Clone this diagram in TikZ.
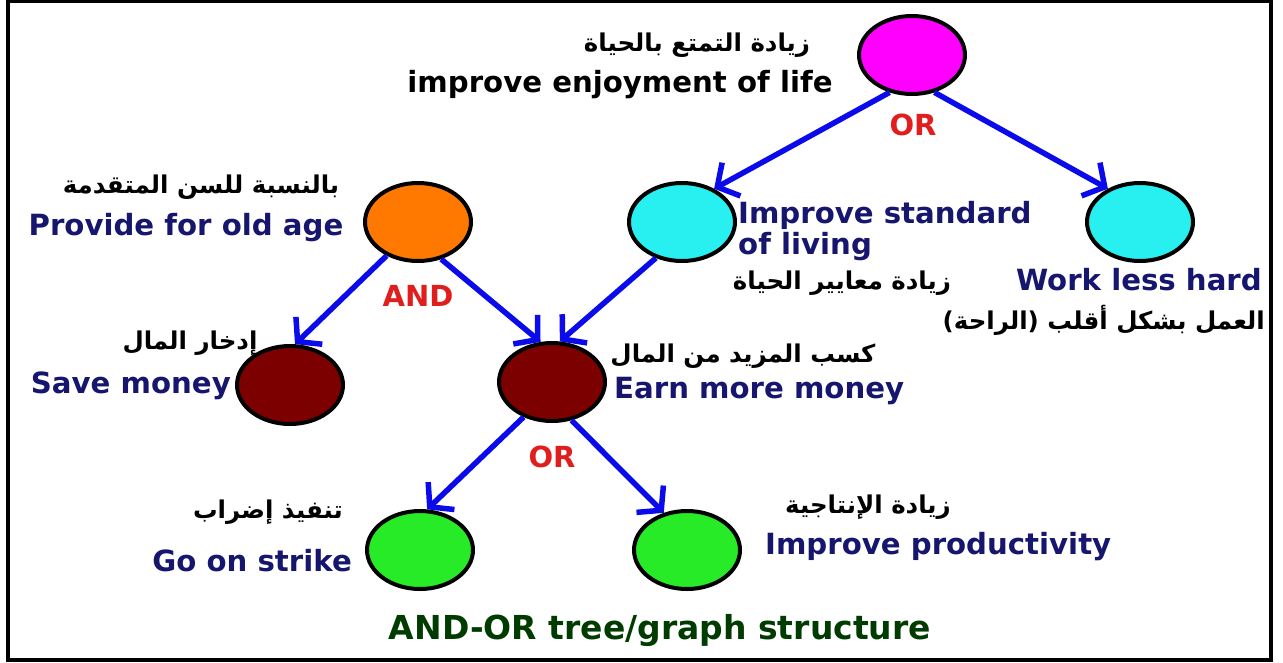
\documentclass[tikz,border=0pt]{standalone}
\usepackage{fontspec}
\setmainfont{DejaVu Sans}
\newfontfamily\arfont[Script=Arabic]{DejaVu Sans}
\TeXXeTstate=1
\usetikzlibrary{shapes.geometric,arrows.meta}
\definecolor{textblue}{RGB}{22,22,110}
\definecolor{arrowblue}{RGB}{10,10,235}
\definecolor{labred}{RGB}{225,30,30}
\definecolor{titlegreen}{RGB}{0,60,0}
\definecolor{cmag}{RGB}{255,0,255}
\definecolor{ccyan}{RGB}{40,240,240}
\definecolor{corange}{RGB}{255,120,0}
\definecolor{cdred}{RGB}{125,0,0}
\definecolor{cgreen}{RGB}{40,235,40}
\begin{document}
\begin{tikzpicture}[x=1pt,y=-1pt,
  st/.style={ellipse,draw=black,line width=4pt,minimum width=106pt,minimum height=78pt,inner sep=0pt},
  arr/.style={draw=arrowblue,line width=5.5pt,-{Straight Barb[length=16pt,width=38pt]}},
  en/.style={font=\fontsize{29.2}{31}\selectfont\bfseries,text=textblue,inner sep=0pt},
  ark/.style={font=\arfont\bfseries\fontsize{24.5}{27}\selectfont,inner sep=0pt},
  lab/.style={font=\fontsize{29}{30}\selectfont\bfseries,text=labred,inner sep=0pt}]
\useasboundingbox (0,0) rectangle (1283,662);
\fill[white] (0,0) rectangle (1283,662);
\draw[line width=4pt] (8,1) rectangle (1270.5,660);

% ellipses
\node[st,fill=cmag]    (top)  at (912,55)  {};
\node[st,fill=ccyan]   (cl)   at (682,222) {};
\node[st,fill=ccyan]   (cr)   at (1140,222) {};
\node[st,fill=corange] (old)  at (418,222) {};
\node[st,fill=cdred]   (save) at (290,385) {};
\node[st,fill=cdred]   (earn) at (552,382) {};
\node[st,fill=cgreen]  (gl)   at (420,550) {};
\node[st,fill=cgreen]  (gr)   at (687,550) {};

% arrows
\draw[arr] (top.239) -- (cl.46);
\draw[arr] (top.301) -- (cr.134);
\draw[arr] (old.227) -- (save.83);
\draw[arr] (old.302) -- (earn.106);
\draw[arr] (cl.234) -- (earn.79);
\draw[arr] (earn.231) -- (gl.80);
\draw[arr] (earn.297) -- (gr.122);

% labels
\node[lab] (or1) at (913,125) {OR};
\node[lab] (and1) at (418,296) {AND};
\node[lab] (or2) at (552,457) {OR};

% texts
\node[ark] (a1) at (697,45) {\beginR زيادة التمتع بالحياة\endR};
\node[en,text=black] (e1) at (620,85) {improve enjoyment of life};
\node[ark] (a2) at (201,187) {\beginR بالنسبة للسن المتقدمة\endR};
\node[en] (e2) at (186,228) {Provide for old age};
\node[en,anchor=west] (e3) at (738,215) {Improve standard};
\node[en,anchor=west] (e3b) at (738,247) {of living};
\node[ark] (a3) at (842,283) {\beginR زيادة معايير الحياة\endR};
\node[en,anchor=east] (e4) at (1262,280) {Work less hard};
\node[ark,anchor=east] (a4) at (1265,320) {\beginR العمل بشكل أقلب (الراحة)\endR};
\node[ark] (a5) at (190,343) {\beginR إدخار المال\endR};
\node[en,anchor=east] (e5) at (231,386) {Save money};
\node[ark] (a6) at (743,356) {\beginR كسب المزيد من المال\endR};
\node[en,anchor=west] (e6) at (614,391) {Earn more money};
\node[ark] (a7) at (268,512) {\beginR تنفيذ إضراب\endR};
\node[en,anchor=east] (e7) at (352,561) {Go on strike};
\node[ark] (a8) at (868,507) {\beginR زيادة الإنتاجية\endR};
\node[en,anchor=west] (e8) at (765,547) {Improve productivity};
\node[en,text=titlegreen,font=\fontsize{33}{36}\selectfont\bfseries] (title) at (660,631) {AND-OR tree/graph structure};
\end{tikzpicture}
\end{document}
